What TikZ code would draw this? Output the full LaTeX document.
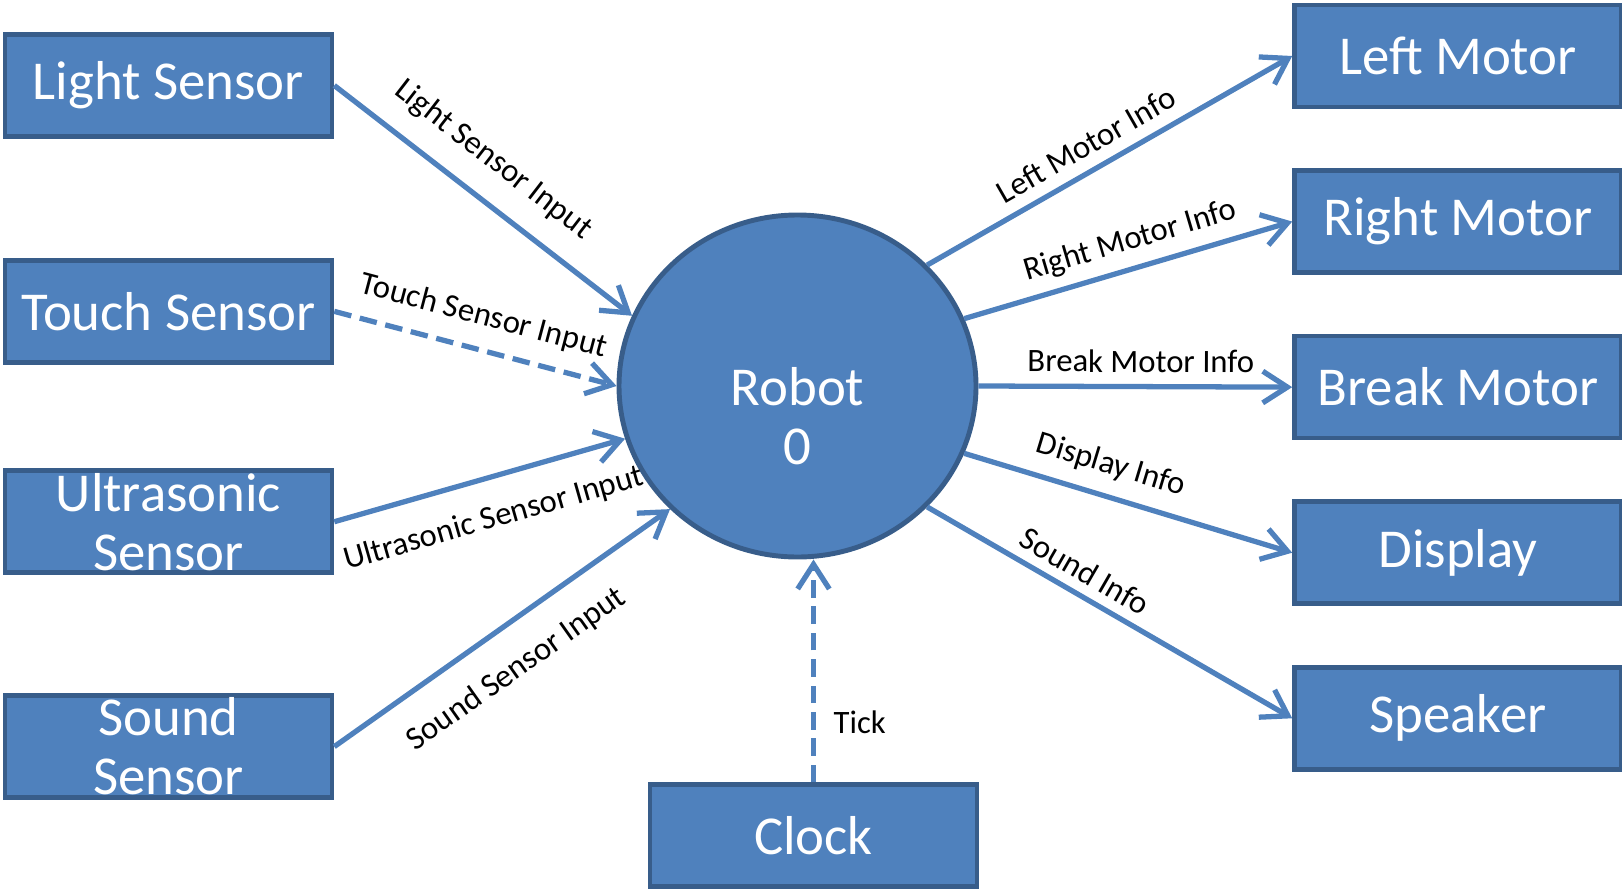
\documentclass[tikz,border=0pt]{standalone}
\usepackage{fontspec}
\setmainfont{Carlito}
\usetikzlibrary{shapes.geometric, arrows.meta, positioning}
\definecolor{boxblue}{RGB}{79, 129, 189}
\definecolor{boxedge}{RGB}{56, 93, 138}

\begin{document}
\begin{tikzpicture}[
        node distance=0.59cm,
        unitbox/.style={rectangle, draw=boxedge, fill=boxblue, line width=1.3pt, minimum width=3.27cm, minimum height=1.02cm, inner sep=0pt, align=center, text=white, font=\fontsize{15.6}{16.8}\selectfont},
        flow/.style={-{Straight Barb[length=7pt, width=9pt]}, draw=boxblue, line width=1.5pt},
        dashflow/.style={flow, dash pattern=on 5pt off 2.5pt},
        flowlabel/.style={font=\fontsize{9.3}{10}\selectfont, text=black, inner sep=1pt}
    ]
        \useasboundingbox (0,0) rectangle (16.22,8.91);

        % Robot process
        \node[ellipse, draw=boxedge, fill=boxblue, line width=1.4pt, minimum width=3.57cm, minimum height=3.42cm,
              label={[align=center, text=white, font=\fontsize{15.6}{16.8}\selectfont, yshift=-0.3cm]center:Robot\\0}] (robot) at (7.975,5.05) {};

        % Sensors
        \node[unitbox] (ls) at (1.685,8.055) {Light Sensor};
        \node[unitbox, below=1.193cm of ls] (ts) {Touch Sensor};
        \node[unitbox, below=1.038cm of ts] (us) {Ultrasonic\\Sensor};
        \node[unitbox, below=1.183cm of us] (ss) {Sound\\Sensor};

        % Actuators
        \node[unitbox] (lm) at (14.58,8.35) {Left Motor};
        \node[unitbox, below=of lm] (rm) {Right Motor};
        \node[unitbox, below=of rm] (bm) {Break Motor};
        \node[unitbox, below=of bm] (dp) {Display};
        \node[unitbox, below=of dp] (sp) {Speaker};

        % Clock
        \node[unitbox] (clk) at (8.135,0.555) {Clock};

        % Inputs
        \draw[flow] (ls.east) -- node[flowlabel, sloped, above=0.18cm, pos=0.455] {Light Sensor Input} (robot.157);
        \draw[dashflow] (ts.east) -- node[flowlabel, sloped, above=0.13cm, pos=0.5] {Touch Sensor Input} (robot.180);
        \draw[flow] (us.east) -- node[flowlabel, sloped, below=0.21cm, pos=0.51] {Ultrasonic Sensor Input} (robot.197);
        \draw[flow] (ss.east) -- node[flowlabel, sloped, below=0.22cm, pos=0.47] {Sound Sensor Input} (robot.224);
        \draw[dashflow] (clk.north) -- node[flowlabel, right=0.14cm, pos=0.27] {Tick} (clk.north |- robot.south);

        % Outputs
        \draw[flow] (robot.43) -- node[flowlabel, sloped, above=0.08cm, pos=0.47] {Left Motor Info} (lm.west);
        \draw[flow] (robot.22) -- node[flowlabel, sloped, above=0.07cm, pos=0.53] {Right Motor Info} (rm.west);
        \draw[flow] (robot.0) -- node[flowlabel, sloped, above=0.08cm, pos=0.517] {Break Motor Info} (bm.west);
        \draw[flow] (robot.-22) -- node[flowlabel, sloped, above=0.11cm, pos=0.42] {Display Info} (dp.west);
        \draw[flow] (robot.-43) -- node[flowlabel, sloped, above=0.06cm, pos=0.40] {Sound Info} (sp.west);
    \end{tikzpicture}
\end{document}
